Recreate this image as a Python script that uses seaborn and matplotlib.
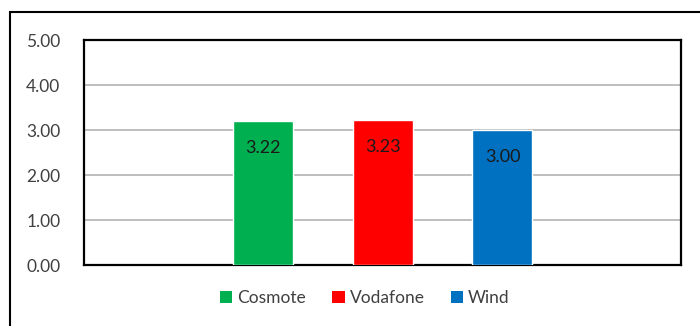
import matplotlib
matplotlib.use('Agg')
import matplotlib.pyplot as plt
from matplotlib.patches import Patch, Rectangle
from matplotlib.ticker import FormatStrFormatter
import seaborn as sns
import pandas as pd

providers = ['Cosmote', 'Vodafone', 'Wind']
scores = [3.22, 3.23, 3.00]
colors = ['#00B050', '#FF0000', '#0070C0']

sns.set_theme(style='white')
plt.rcParams['font.family'] = ['Lato', 'DejaVu Sans']

df = pd.DataFrame({'provider': providers, 'score': scores})
palette = dict(zip(providers, colors))

fig = plt.figure(figsize=(7, 3.26), dpi=100)
ax = fig.add_axes([0.12, 0.1856, 0.853, 0.6902])

sns.barplot(data=df, x='provider', y='score', hue='provider', palette=palette,
            width=0.5, saturation=1, legend=False, ax=ax, zorder=3)

ax.set_xlim(-1.49, 3.49)
ax.set_ylim(0, 5)
ax.set_yticks([0, 1, 2, 3, 4, 5])
ax.yaxis.set_major_formatter(FormatStrFormatter('%.2f'))
ax.tick_params(axis='y', length=0, pad=17, labelsize=12.5, labelcolor='#404040')
ax.set_xticks([])
ax.set_xlabel('')
ax.set_ylabel('')
ax.grid(axis='y', color='#B3B3B3', linewidth=1.2, zorder=0)
for s in ax.spines.values():
    s.set_color('black')
    s.set_linewidth(1.6)

# value labels inside the top of each bar
for bar, val in zip(ax.patches, scores):
    ax.annotate(f'{val:.2f}', (bar.get_x() + bar.get_width() / 2, bar.get_height()),
                xytext=(0, -27), textcoords='offset pixels',
                ha='center', va='center', fontsize=13, color='#1a1a1a')

handles = [Patch(facecolor=c, edgecolor='none', label=p) for p, c in zip(providers, colors)]
fig.legend(handles=handles, loc='center', bbox_to_anchor=(365 / 700, 1 - 298 / 326),
           ncol=3, frameon=False, fontsize=12.5, handlelength=0.7, handleheight=0.7,
           handletextpad=0.3, columnspacing=1.5, labelcolor='#404040')

# outer chart-area border
fig.patches.append(Rectangle((10 / 700, -0.1), 1.1, 1 - 12 / 326 + 0.1,
                             transform=fig.transFigure, fill=False,
                             edgecolor='black', linewidth=1.5))

fig.savefig('out.png', dpi=100)
